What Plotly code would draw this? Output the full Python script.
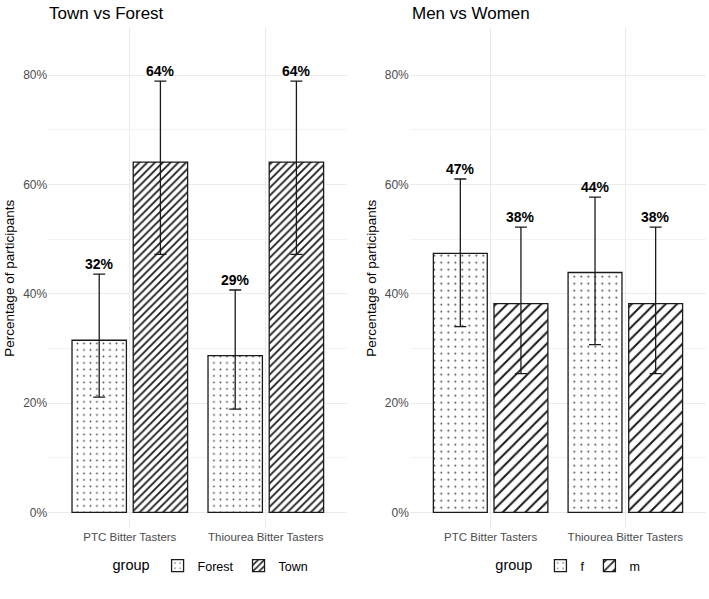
import plotly.graph_objects as go

categories = ["PTC Bitter Tasters", "Thiourea Bitter Tasters"]

# Panel 1: Town vs Forest
forest_val = [0.315, 0.287]
forest_lo = [0.211, 0.189]
forest_hi = [0.436, 0.407]
town_val = [0.641, 0.641]
town_lo = [0.472, 0.472]
town_hi = [0.789, 0.789]

# Panel 2: Men vs Women
f_val = [0.474, 0.439]
f_lo = [0.340, 0.307]
f_hi = [0.610, 0.577]
m_val = [0.382, 0.382]
m_lo = [0.254, 0.254]
m_hi = [0.522, 0.522]

FONT = "Liberation Sans, Arial, sans-serif"
GRID = "#EBEBEB"
TICK = "#4D4D4D"

fig = go.Figure()

def add_pair(vals1, lo1, hi1, name1, vals2, lo2, hi2, name2, xa, ya, legend, dsize, dsol, lsize, lsol):
    for vals, lo, hi, name, shape, size, sol, fg in [
        (vals1, lo1, hi1, name1, ".", dsize, dsol, "#444444"),
        (vals2, lo2, hi2, name2, "/", lsize, lsol, "#1a1a1a"),
    ]:
        fig.add_trace(go.Bar(
            x=categories, y=vals, name=name, xaxis=xa, yaxis=ya, legend=legend,
            marker=dict(color="white", line=dict(color="#1a1a1a", width=1.3),
                        pattern=dict(shape=shape, fgcolor=fg, bgcolor="white", fgopacity=1,
                                     size=size, solidity=sol, fillmode="overlay")),
            error_y=dict(type="data", symmetric=False,
                         array=[h - v for h, v in zip(hi, vals)],
                         arrayminus=[v - l for v, l in zip(vals, lo)],
                         color="#1a1a1a", thickness=1.3, width=6),
            hoverinfo="skip",
        ))

add_pair(forest_val, forest_lo, forest_hi, "Forest", town_val, town_lo, town_hi, "Town",
         "x", "y", "legend", 6.5, 0.06, 5.5, 0.33)
add_pair(f_val, f_lo, f_hi, "f", m_val, m_lo, m_hi, "m",
         "x2", "y2", "legend2", 7, 0.055, 8, 0.25)

annotations = []
def add_labels(vals1, hi1, vals2, hi2, xref, yref, shift):
    for vals, hi, s in [(vals1, hi1, -shift), (vals2, hi2, shift)]:
        for c, v, h in zip(categories, vals, hi):
            annotations.append(dict(
                x=c, y=h, xref=xref, yref=yref, xshift=s, yshift=0,
                text=f"<b>{round(v*100):.0f}%</b>", showarrow=False,
                yanchor="bottom", font=dict(family=FONT, size=14, color="black")))

add_labels(forest_val, forest_hi, town_val, town_hi, "x", "y", 30.6)
add_labels(f_val, f_hi, m_val, m_hi, "x2", "y2", 30.3)

annotations.append(dict(text="Town vs Forest", x=0.066, y=0.997, xref="paper", yref="paper",
                        xanchor="left", yanchor="top", showarrow=False,
                        font=dict(family=FONT, size=17, color="black")))
annotations.append(dict(text="Men vs Women", x=0.578, y=0.997, xref="paper", yref="paper",
                        xanchor="left", yanchor="top", showarrow=False,
                        font=dict(family=FONT, size=17, color="black")))

yticks = [0, 0.2, 0.4, 0.6, 0.8]
ytext = ["0%", "20%", "40%", "60%", "80%"]

def yaxis(domain_anchor):
    return dict(anchor=domain_anchor, domain=[0.118, 0.953], range=[-0.029, 0.886],
                tickvals=yticks, ticktext=ytext, showgrid=True, gridcolor=GRID, gridwidth=1,
                minor=dict(tickvals=[0.1, 0.3, 0.5, 0.7], showgrid=True, gridcolor="#F3F3F3", gridwidth=0.6),
                zeroline=False, showline=False, ticks="",
                tickfont=dict(family=FONT, size=12, color=TICK),
                title=dict(text="Percentage of participants", standoff=5,
                           font=dict(family=FONT, size=13.5, color="black")))

def xaxis(domain, anchor):
    return dict(anchor=anchor, domain=domain, type="category", range=[-0.6, 1.6],
                showgrid=True, gridcolor=GRID, gridwidth=1, zeroline=False, showline=False,
                ticks="", tickfont=dict(family=FONT, size=11.5, color=TICK))

fig.update_layout(
    width=709, height=599,
    margin=dict(l=0, r=0, t=0, b=0),
    paper_bgcolor="white", plot_bgcolor="white",
    barmode="group", bargap=0.1, bargroupgap=0.111,
    xaxis=xaxis([0.068, 0.49], "y"),
    yaxis=yaxis("x"),
    xaxis2=xaxis([0.578, 0.996], "y2"),
    yaxis2=yaxis("x2"),
    legend=dict(orientation="h", x=0.299, xanchor="center", y=0.055, yanchor="middle",
                title=dict(text="group", side="left", font=dict(family=FONT, size=14.5, color="black")),
                font=dict(family=FONT, size=12.5, color="black"), itemwidth=30),
    legend2=dict(orientation="h", x=0.803, xanchor="center", y=0.055, yanchor="middle",
                 title=dict(text="group", side="left", font=dict(family=FONT, size=14.5, color="black")),
                 font=dict(family=FONT, size=12.5, color="black"), itemwidth=30),
    annotations=annotations,
    showlegend=True,
)

fig.write_html("out.html")
